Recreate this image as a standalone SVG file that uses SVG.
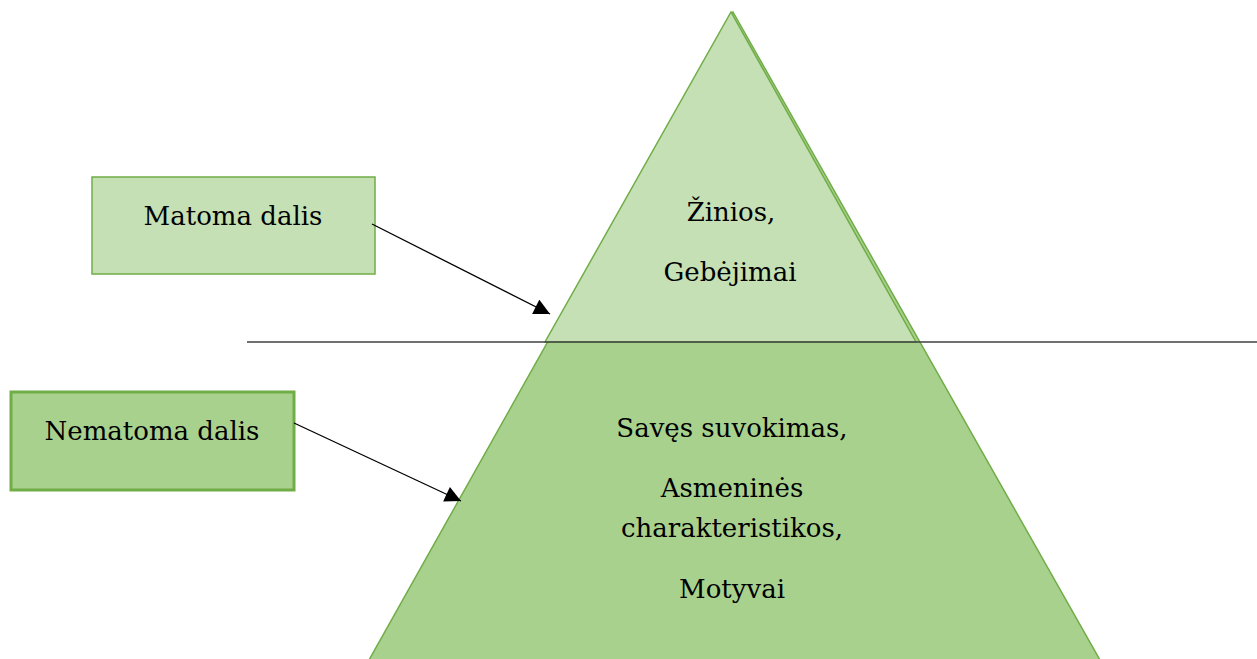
<svg xmlns="http://www.w3.org/2000/svg" width="1257" height="659" viewBox="0 0 1257 659">
<style>
text{font-family:"DejaVu Serif",serif;font-size:26px;fill:#000;text-anchor:middle}
.edge{stroke:#000;stroke-width:1.3;fill:none}
.g{stroke:#70AD47}
</style>
<defs>
<marker id="ah" viewBox="0 0 10 10" refX="10" refY="5" markerWidth="17" markerHeight="16" markerUnits="userSpaceOnUse" orient="auto">
<path d="M0,0 L10,5 L0,10 z" fill="#000"/>
</marker>
</defs>
<rect width="1257" height="659" fill="#fff"/>
<g id="pyramid-lower">
<polygon points="733,12 1100,660 369,660" fill="#A9D18E" class="g" stroke-width="1.5"/>
</g>
<g id="pyramid-upper">
<polygon points="731,12 916,342 545,342" fill="#C5E0B4" class="g" stroke-width="1.5"/>
</g>
<g id="waterline">
<line x1="247" y1="342" x2="1257" y2="342" stroke="#404040" stroke-width="1.5"/>
</g>
<g id="upper-text">
<text x="731" y="221">Žinios,</text>
<text x="730" y="281">Gebėjimai</text>
</g>
<g id="lower-text">
<text x="732" y="437">Savęs suvokimas,</text>
<text x="732" y="497">Asmeninės</text>
<text x="732" y="537">charakteristikos,</text>
<text x="732" y="598">Motyvai</text>
</g>
<g id="matoma">
<rect x="92" y="177" width="283" height="97" fill="#C5E0B4" class="g" stroke-width="1.5"/>
<text x="233" y="225">Matoma dalis</text>
</g>
<g id="nematoma">
<rect x="11" y="392" width="283" height="98" fill="#A9D18E" class="g" stroke-width="3"/>
<text x="152" y="440">Nematoma dalis</text>
</g>
<g id="connectors">
<line class="edge" x1="372" y1="224" x2="550" y2="314" marker-end="url(#ah)"/>
<line class="edge" x1="294" y1="423" x2="461" y2="501" marker-end="url(#ah)"/>
</g>
</svg>
